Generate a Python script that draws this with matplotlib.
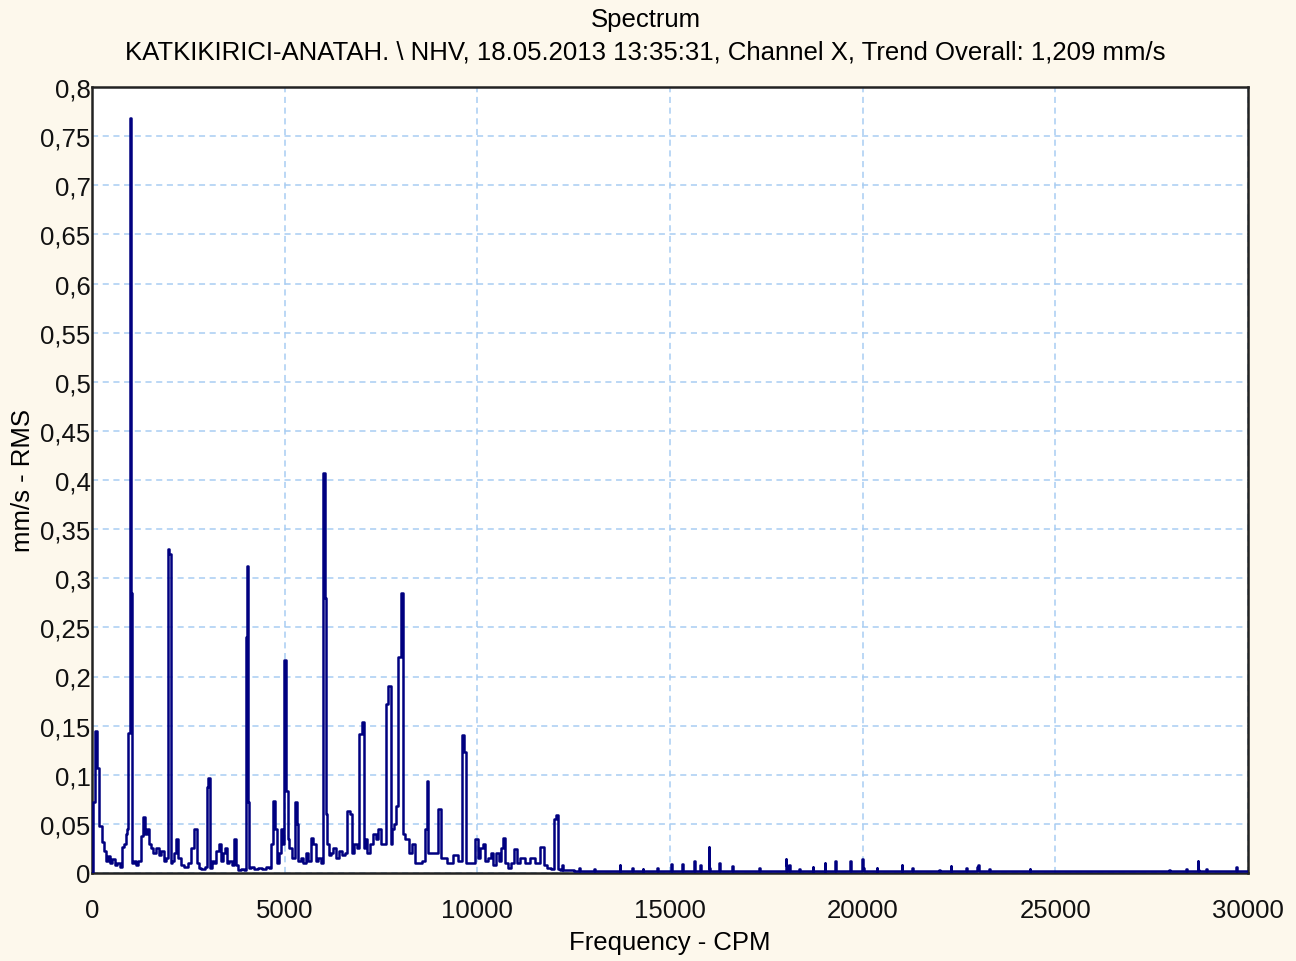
import numpy as np
import matplotlib.pyplot as plt
from matplotlib.ticker import FuncFormatter, MultipleLocator

plt.rcParams['font.family'] = ['Liberation Sans', 'DejaVu Sans']

# Spectrum (frequency in CPM, amplitude in mm/s RMS)
# 0 - 12 100 CPM: harmonics of running speed and noise
freq_low = [
    0, 50, 100, 150, 230, 290, 340, 400, 450, 500, 560, 620, 680, 750, 790, 860, 900, 925, 960,
    1006, 1035, 1065, 1110, 1170, 1230, 1295, 1350, 1400, 1440, 1500, 1560, 1620, 1700, 1760,
    1830, 1900, 1960, 1990, 2025, 2060, 2110, 2160, 2205, 2270, 2350, 2450, 2530, 2620, 2700,
    2740, 2800, 2880, 2960, 3000, 3040, 3070, 3150, 3200, 3260, 3320, 3380, 3420, 3470, 3520,
    3600, 3660, 3710, 3760, 3830, 3900, 3980, 4000, 4030, 4060, 4090, 4150, 4250, 4350, 4450,
    4560, 4620, 4670, 4720, 4770, 4820, 4880, 4930, 4970, 5010, 5060, 5100, 5150, 5230, 5295,
    5330, 5380, 5450, 5520, 5580, 5640, 5710, 5780, 5830, 5900, 5960, 6020, 6050, 6080, 6120,
    6170, 6230, 6300, 6380, 6450, 6520, 6600, 6660, 6710, 6760, 6830, 6900, 6970, 7030, 7070,
    7110, 7180, 7250, 7330, 7400, 7460, 7540, 7600, 7655, 7730, 7770, 7820, 7870, 7915, 7990,
    8045, 8080, 8175, 8260, 8330, 8420, 8520, 8620, 8670, 8715, 8750, 8850, 8950, 9030, 9070,
    9150, 9300, 9450, 9550, 9630, 9690, 9720, 9880, 9990, 10040, 10110, 10170, 10230, 10330,
    10380, 10430, 10540, 10600, 10640, 10690, 10740, 10850, 10920, 11000, 11050, 11150, 11300,
    11420, 11550, 11700, 11750, 11850, 11950, 12015, 12065, 12100,
]
amp_low = [
    0.0, 0.072, 0.145, 0.107, 0.048, 0.032, 0.022, 0.012, 0.017, 0.010, 0.014, 0.008, 0.010,
    0.006, 0.026, 0.030, 0.040, 0.045, 0.143, 0.768, 0.285, 0.010, 0.012, 0.008, 0.012, 0.038,
    0.057, 0.040, 0.045, 0.030, 0.025, 0.020, 0.025, 0.018, 0.022, 0.012, 0.015, 0.330, 0.325,
    0.010, 0.012, 0.020, 0.035, 0.015, 0.008, 0.006, 0.010, 0.025, 0.045, 0.010, 0.005, 0.004,
    0.006, 0.088, 0.097, 0.005, 0.012, 0.010, 0.022, 0.030, 0.012, 0.020, 0.025, 0.010, 0.012,
    0.008, 0.035, 0.008, 0.003, 0.004, 0.003, 0.240, 0.312, 0.072, 0.005, 0.006, 0.004, 0.005,
    0.004, 0.006, 0.005, 0.030, 0.073, 0.045, 0.010, 0.020, 0.045, 0.030, 0.217, 0.083, 0.035,
    0.025, 0.015, 0.072, 0.050, 0.012, 0.015, 0.010, 0.020, 0.012, 0.036, 0.030, 0.012, 0.015,
    0.010, 0.407, 0.280, 0.060, 0.030, 0.018, 0.020, 0.025, 0.015, 0.022, 0.018, 0.020, 0.063,
    0.060, 0.020, 0.030, 0.025, 0.141, 0.154, 0.025, 0.035, 0.020, 0.030, 0.040, 0.035, 0.045,
    0.030, 0.030, 0.172, 0.190, 0.030, 0.045, 0.050, 0.068, 0.220, 0.285, 0.040, 0.035, 0.020,
    0.030, 0.010, 0.010, 0.012, 0.045, 0.094, 0.020, 0.020, 0.020, 0.065, 0.015, 0.015, 0.010,
    0.018, 0.012, 0.140, 0.123, 0.010, 0.010, 0.035, 0.015, 0.025, 0.030, 0.012, 0.015, 0.020,
    0.008, 0.020, 0.012, 0.025, 0.036, 0.010, 0.005, 0.010, 0.024, 0.010, 0.015, 0.010, 0.015,
    0.010, 0.026, 0.008, 0.005, 0.004, 0.055, 0.059, 0.004,
]

# 12 100 - 30 000 CPM: low floor with small isolated lines
freq_high = [
    12195, 12220, 12245, 12400, 12615, 12640, 12665, 13025, 13050, 13075, 13680, 13700, 13725,
    14010, 14030, 14055, 14280, 14300, 14320, 14660, 14680, 14705, 15020, 15040, 15065, 15310,
    15330, 15355, 15620, 15640, 15665, 15760, 15780, 15805, 15990, 16010, 16035, 16060, 16270,
    16290, 16315, 16610, 16630, 16655, 17310, 17330, 17355, 17985, 18010, 18035, 18060, 18090,
    18110, 18135, 18350, 18370, 18395, 18690, 18710, 18735, 19000, 19020, 19045, 19280, 19300,
    19325, 19670, 19690, 19715, 19985, 20005, 20030, 20055, 20350, 20370, 20395, 21000, 21020,
    21045, 21280, 21300, 21325, 21980, 22000, 22025, 22270, 22290, 22315, 22680, 22700, 22725,
    22970, 22990, 23015, 23040, 23280, 23300, 23325, 24320, 24340, 24365, 27950, 27970, 27995,
    28390, 28410, 28435, 28680, 28700, 28725, 28750, 28910, 28930, 28955, 29680, 29700, 29725,
    30000,
]
amp_high = [
    0.003, 0.008, 0.003, 0.003, 0.002, 0.005, 0.002, 0.002, 0.004, 0.002, 0.002, 0.008, 0.002,
    0.002, 0.005, 0.002, 0.002, 0.004, 0.002, 0.002, 0.005, 0.002, 0.002, 0.009, 0.002, 0.002,
    0.009, 0.002, 0.002, 0.012, 0.002, 0.002, 0.008, 0.002, 0.002, 0.026, 0.005, 0.002, 0.002,
    0.010, 0.002, 0.002, 0.007, 0.002, 0.002, 0.005, 0.002, 0.002, 0.014, 0.008, 0.002, 0.002,
    0.008, 0.002, 0.002, 0.004, 0.002, 0.002, 0.006, 0.002, 0.002, 0.010, 0.002, 0.002, 0.012,
    0.002, 0.002, 0.012, 0.002, 0.002, 0.014, 0.005, 0.002, 0.002, 0.005, 0.002, 0.002, 0.008,
    0.002, 0.002, 0.005, 0.002, 0.002, 0.003, 0.002, 0.002, 0.007, 0.002, 0.002, 0.005, 0.002,
    0.002, 0.006, 0.008, 0.002, 0.002, 0.004, 0.002, 0.002, 0.004, 0.002, 0.002, 0.003, 0.002,
    0.002, 0.004, 0.002, 0.002, 0.012, 0.003, 0.002, 0.002, 0.004, 0.002, 0.002, 0.006, 0.002,
    0.002,
]

freq_cpm = freq_low + freq_high
amp_mms = amp_low + amp_high

title = 'Spectrum'
subtitle = 'KATKIKIRICI-ANATAH. \\ NHV, 18.05.2013 13:35:31, Channel X, Trend Overall: 1,209 mm/s'

bg = '#fdf8ec'
fs = 18.5
fig = plt.figure(figsize=(12.96, 9.62), dpi=100, facecolor=bg)
ax = fig.add_axes([92 / 1296, 88 / 962, 1156 / 1296, 786 / 962])
ax.set_facecolor('white')

# stepped line, like the analyser software draws it
ax.plot(freq_cpm, amp_mms, color='#000080', lw=1.8, drawstyle='steps-mid', zorder=3)

ax.set_xlim(0, 30000)
ax.set_ylim(0, 0.8)
ax.xaxis.set_major_locator(MultipleLocator(5000))
ax.yaxis.set_major_locator(MultipleLocator(0.05))


def comma_fmt(v, pos):
    s = ('%.2f' % v).rstrip('0').rstrip('.')
    return s.replace('.', ',')


ax.yaxis.set_major_formatter(FuncFormatter(comma_fmt))
ax.xaxis.set_major_formatter(FuncFormatter(lambda v, p: '%d' % v))

ax.grid(True, color='#a8cdf2', linestyle=(0, (4, 3)), lw=1.1, zorder=1)
ax.tick_params(axis='both', length=0, labelsize=fs, colors='#111111')
ax.tick_params(axis='x', pad=18)
ax.tick_params(axis='y', pad=1)

for sp in ax.spines.values():
    sp.set_linewidth(1.8)
    sp.set_color('#222222')

ax.set_xlabel('Frequency - CPM', fontsize=fs, labelpad=6)
ax.set_ylabel('mm/s - RMS', fontsize=fs, labelpad=4)

fig.text(0.498, 0.979, title, ha='center', va='center', fontsize=fs)
fig.text(0.498, 0.945, subtitle, ha='center', va='center', fontsize=fs)

fig.savefig('out.png', dpi=100, facecolor=bg)
